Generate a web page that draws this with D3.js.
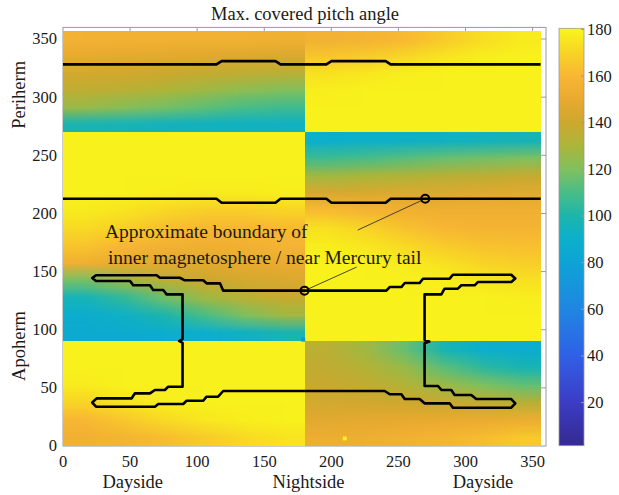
<!DOCTYPE html>
<html lang="en">
<head>
<meta charset="utf-8">
<title>Max. covered pitch angle</title>
<script src="https://d3js.org/d3.v7.min.js"></script>
<style>
  body { margin: 0; background: #fff; }
  svg text { font-family: "Liberation Serif", "Times New Roman", serif; fill: #1a1a1a; }
</style>
</head>
<body>
<div id="vis"></div>
<script>
// ticks
const xTicks = [0, 50, 100, 150, 200, 250, 300, 350];
const yTicks = [0, 50, 100, 150, 200, 250, 300, 350];
const cbTicks = [20, 40, 60, 80, 100, 120, 140, 160, 180];

// heat map blocks (degrees); each grid: rows bottom -> top, 6 columns of 30 deg
const xEdges = [0, 180, 356];
const yEdges = [0, 90, 270, 357];

const lowLeft = [
  [156, 158, 162, 167, 172, 175],
  [160, 166, 172, 176, 178, 179],
  [170, 175, 178, 179, 179, 179],
  [177, 179, 179, 179, 179, 179],
  [179, 179, 179, 179, 179, 179],
  [179, 179, 179, 179, 179, 179]
];
const lowRight = [
  [153, 154, 156, 158, 162, 166],
  [148, 149, 150, 151, 152, 153],
  [143, 142, 141, 139, 137, 134],
  [139, 137, 133, 127, 120, 115],
  [137, 133, 126, 114, 104, 98],
  [135, 128, 116, 98, 90, 88]
];
const midLeft = [
  [86, 87, 88, 90, 93, 98],
  [88, 92, 100, 110, 120, 128],
  [96, 105, 117, 127, 134, 138],
  [118, 127, 135, 140, 143, 145],
  [155, 150, 148, 148, 150, 152],
  [165, 160, 157, 155, 156, 158],
  [172, 168, 163, 160, 160, 161],
  [177, 175, 171, 168, 168, 170],
  [179, 179, 178, 177, 177, 178],
  [179, 179, 179, 179, 179, 179],
  [179, 179, 179, 179, 179, 179],
  [179, 179, 179, 179, 179, 179]
];
const midRight = [
  [179, 179, 179, 179, 179, 179],
  [179, 179, 179, 179, 179, 179],
  [179, 179, 179, 179, 179, 178],
  [179, 179, 179, 178, 176, 174],
  [179, 179, 177, 174, 170, 168],
  [178, 176, 172, 167, 164, 163],
  [174, 170, 164, 160, 158, 158],
  [162, 158, 156, 155, 155, 155],
  [145, 145, 146, 146, 147, 148],
  [128, 130, 132, 134, 136, 138],
  [108, 110, 113, 116, 118, 120],
  [90, 91, 92, 93, 95, 97]
];
const topLeft = [
  [98, 97, 95, 94, 93, 93],
  [126, 122, 118, 114, 110, 108],
  [136, 134, 131, 127, 123, 120],
  [143, 142, 140, 138, 136, 134],
  [150, 149, 148, 147, 146, 145],
  [157, 156, 156, 156, 156, 155]
];
const topRight = [
  [179, 179, 179, 179, 179, 179],
  [179, 179, 179, 179, 179, 179],
  [178, 179, 179, 179, 179, 179],
  [174, 176, 178, 179, 179, 179],
  [165, 167, 171, 175, 178, 179],
  [157, 158, 161, 167, 173, 177]
];

// single odd cells
const spotX = [210, 179];
const spotY = [6.5, 91.5];
const spotV = [180, 68];

// boundary lines
const topLine = [[0, 328.2], [114.4, 328.2], [118.2, 331], [158.4, 331], [162.1, 328.2], [196.3, 328.2],
  [200.1, 331], [240.5, 331], [244.2, 328.2], [356, 328.2]];
const midLine = [[0, 212.6], [114.4, 212.6], [118.2, 209.2], [158.4, 209.2], [162.1, 212.6], [196.3, 212.6],
  [200.1, 209.2], [240.5, 209.2], [244.2, 212.6], [356, 212.6]];
const loopLine = [
  [180, 133.6], [119.4, 133.6], [117, 139.9], [107, 139.9], [104.5, 142.5], [90.8, 142.5], [87.1, 144.7],
  [72.2, 144.7], [69.8, 146.8], [24.6, 146.8], [21.8, 144.4], [24.6, 141.9], [50, 141.9], [52.3, 138.2],
  [64.8, 138.2], [67.2, 134.1], [74.7, 134.1], [77.2, 130.4], [89.1, 130.4], [89.1, 92], [86.6, 90.3],
  [89.1, 88.6], [89.1, 51], [78.4, 51], [75.9, 48.2], [68.5, 48.2], [64.8, 45.3], [53.6, 45.3], [51.2, 41],
  [25.1, 41], [21.8, 37.4], [24.6, 33.8], [68.5, 33.8], [71, 36.1], [89.6, 36.1], [92.1, 38.9], [104.5, 38.9],
  [107, 42.4], [115.6, 42.4], [119.4, 47.3], [239.8, 47.3], [243.5, 44.5], [252.2, 44.5], [254.7, 40.4],
  [265.8, 40.4], [269.5, 36.7], [288.2, 36.7], [290.6, 32.9], [334.1, 32.9], [337.1, 36.7], [334.1, 40.4],
  [308, 40.4], [304.3, 43.9], [291.9, 43.9], [289.4, 48.2], [282, 48.2], [279.5, 51.6], [269.5, 51.6],
  [269.5, 88.4], [273, 89.8], [269.5, 91.2], [269.5, 130.4], [282, 130.4], [284.4, 135.3], [294.3, 135.3],
  [296.9, 138.2], [306.8, 138.2], [309.2, 141], [334.1, 141], [337.1, 144.1], [334.1, 147.3], [290.6, 147.3],
  [288.2, 143.9], [268.3, 143.9], [265.8, 140.2], [254.7, 140.2], [252.2, 136.7], [243.5, 136.7], [241, 133.6],
  [180, 133.6]
];
const markX = [270, 180];
const markY = [212.6, 133.6];

// annotation
const noteLines = ["Approximate boundary of", "inner magnetosphere / near Mercury tail"];
const noteX = [31.3, 33.5];
const noteY = [178.6, 156.5];
const pointerFrom = [[219.7, 185.7], [218.9, 153.9]];

const sideLabels = ["Dayside", "Nightside", "Dayside"];
const sideX = [52, 183, 313];

// colormap (parula-like)
const cmapV = [1.5, 20, 40, 60, 80, 90, 100, 110, 120, 130, 140, 150, 160, 170, 180.5];
const cmapC = ["#352a90", "#3c3cc4", "#3060e6", "#1f86e2", "#0ea3d6", "#0cafcc", "#1cb5ac", "#48bd88",
  "#80c05e", "#aab63a", "#cca82e", "#e8aa30", "#f8b634", "#f8d426", "#f8f61a"];

const width = 619, height = 495;
const xScale = d3.scaleLinear().domain([0, 360]).range([63, 546]);
const yScale = d3.scaleLinear().domain([0, 360]).range([446, 27.4]);
const cScale = d3.scaleLinear().domain([1.5, 180.5]).range([445.7, 28.3]);
const color = d3.scaleLinear().domain(cmapV).range(cmapC).clamp(true);

const svg = d3.select("#vis").append("svg")
  .attr("width", width).attr("height", height);

// axes box + inward ticks (under the image, like matlab)
const axisColor = "#9a9a9a";
svg.append("rect")
  .attr("x", xScale(0)).attr("y", yScale(360))
  .attr("width", xScale(360) - xScale(0)).attr("height", yScale(0) - yScale(360))
  .attr("fill", "none").attr("stroke", axisColor).attr("stroke-width", 1);

svg.append("g").selectAll("line").data(xTicks.slice(1)).join("line")
  .attr("x1", d => xScale(d)).attr("x2", d => xScale(d))
  .attr("y1", yScale(360)).attr("y2", yScale(360) + 4)
  .attr("stroke", axisColor);
svg.append("g").selectAll("line").data(yTicks.slice(1)).join("line")
  .attr("x1", xScale(360)).attr("x2", xScale(360) - 5)
  .attr("y1", d => yScale(d)).attr("y2", d => yScale(d))
  .attr("stroke", axisColor);

function blockImage(grid) {
  const rows = grid.length, cols = grid[0].length;
  const cv = document.createElement("canvas");
  cv.width = cols; cv.height = rows;
  const ctx = cv.getContext("2d");
  const img = ctx.createImageData(cols, rows);
  grid.forEach((row, r) => row.forEach((v, c) => {
    const col = d3.rgb(color(v));
    const i = ((rows - 1 - r) * cols + c) * 4;
    img.data[i] = col.r; img.data[i + 1] = col.g; img.data[i + 2] = col.b; img.data[i + 3] = 255;
  }));
  ctx.putImageData(img, 0, 0);
  return cv.toDataURL();
}

const blocks = [
  {x0: xEdges[0], x1: xEdges[1], y0: yEdges[0], y1: yEdges[1], grid: lowLeft},
  {x0: xEdges[1], x1: xEdges[2], y0: yEdges[0], y1: yEdges[1], grid: lowRight},
  {x0: xEdges[0], x1: xEdges[1], y0: yEdges[1], y1: yEdges[2], grid: midLeft},
  {x0: xEdges[1], x1: xEdges[2], y0: yEdges[1], y1: yEdges[2], grid: midRight},
  {x0: xEdges[0], x1: xEdges[1], y0: yEdges[2], y1: yEdges[3], grid: topLeft},
  {x0: xEdges[1], x1: xEdges[2], y0: yEdges[2], y1: yEdges[3], grid: topRight}
];

const px = v => Math.round(xScale(v));
const py = v => Math.round(yScale(v));

svg.append("g").selectAll("image").data(blocks).join("image")
  .attr("x", d => px(d.x0)).attr("y", d => py(d.y1))
  .attr("width", d => px(d.x1) - px(d.x0))
  .attr("height", d => py(d.y0) - py(d.y1))
  .attr("preserveAspectRatio", "none")
  .attr("href", d => blockImage(d.grid));

svg.append("g").selectAll("rect").data(spotV).join("rect")
  .attr("x", (d, i) => xScale(spotX[i] - 1.5))
  .attr("y", (d, i) => yScale(spotY[i] + 1.7))
  .attr("width", xScale(3) - xScale(0))
  .attr("height", yScale(0) - yScale(3.4))
  .attr("fill", d => color(d));

// boundary lines
const line = d3.line().x(d => xScale(d[0])).y(d => yScale(d[1]));
svg.append("g").selectAll("path").data([topLine, midLine, loopLine]).join("path")
  .attr("d", line)
  .attr("fill", "none").attr("stroke", "#000")
  .attr("stroke-width", 2.6).attr("stroke-linejoin", "round");

// pointers from text to markers
const r = 4;
svg.append("g").selectAll("line").data(pointerFrom).join("line")
  .each(function (d, i) {
    const x1 = xScale(d[0]), y1 = yScale(d[1]);
    const x2 = xScale(markX[i]), y2 = yScale(markY[i]);
    const len = Math.hypot(x2 - x1, y2 - y1);
    d3.select(this)
      .attr("x1", x1).attr("y1", y1)
      .attr("x2", x2 - (x2 - x1) / len * r).attr("y2", y2 - (y2 - y1) / len * r);
  })
  .attr("stroke", "#333").attr("stroke-width", 0.9);

svg.append("g").selectAll("circle").data(markX).join("circle")
  .attr("cx", d => xScale(d)).attr("cy", (d, i) => yScale(markY[i]))
  .attr("r", r).attr("fill", "none").attr("stroke", "#000").attr("stroke-width", 2);

svg.append("g").selectAll("text").data(noteLines).join("text")
  .attr("x", (d, i) => xScale(noteX[i])).attr("y", (d, i) => yScale(noteY[i]))
  .style("font-size", "19.5px")
  .text(d => d);

// tick labels
svg.append("g").selectAll("text").data(xTicks).join("text")
  .attr("x", d => xScale(d)).attr("y", 467)
  .attr("text-anchor", "middle").style("font-size", "16.5px")
  .text(d => d);
svg.append("g").selectAll("text").data(yTicks).join("text")
  .attr("x", 57).attr("y", d => yScale(d)).attr("dy", "0.33em")
  .attr("text-anchor", "end").style("font-size", "16.5px")
  .text(d => d);

svg.append("g").selectAll("text").data(sideLabels).join("text")
  .attr("x", (d, i) => xScale(sideX[i])).attr("y", 488)
  .attr("text-anchor", "middle").style("font-size", "18.5px")
  .text(d => d);

svg.append("text")
  .attr("transform", "translate(25," + yScale(302) + ") rotate(-90)")
  .attr("text-anchor", "middle").style("font-size", "18.5px")
  .text("Periherm");
svg.append("text")
  .attr("transform", "translate(25," + yScale(86) + ") rotate(-90)")
  .attr("text-anchor", "middle").style("font-size", "18.5px")
  .text("Apoherm");

svg.append("text")
  .attr("x", 305).attr("y", 19.5)
  .attr("text-anchor", "middle").style("font-size", "18.5px")
  .text("Max. covered pitch angle");

// colorbar
const cbX = 559, cbW = 25;
const grad = svg.append("defs").append("linearGradient")
  .attr("id", "cbGrad").attr("x1", 0).attr("y1", 1).attr("x2", 0).attr("y2", 0);
grad.selectAll("stop").data(cmapV).join("stop")
  .attr("offset", d => (d - cmapV[0]) / (cmapV[cmapV.length - 1] - cmapV[0]))
  .attr("stop-color", (d, i) => cmapC[i]);

svg.append("rect")
  .attr("x", cbX).attr("y", cScale(180.5))
  .attr("width", cbW).attr("height", cScale(1.5) - cScale(180.5))
  .attr("fill", "url(#cbGrad)").attr("stroke", axisColor).attr("stroke-width", 0.8);

svg.append("g").selectAll("line").data(cbTicks).join("line")
  .attr("x1", cbX + cbW).attr("x2", cbX + cbW - 3)
  .attr("y1", d => cScale(d)).attr("y2", d => cScale(d))
  .attr("stroke", axisColor);

svg.append("g").selectAll("text").data(cbTicks).join("text")
  .attr("x", 587).attr("y", d => cScale(d)).attr("dy", "0.33em")
  .style("font-size", "16.5px")
  .text(d => d);
</script>
</body>
</html>
